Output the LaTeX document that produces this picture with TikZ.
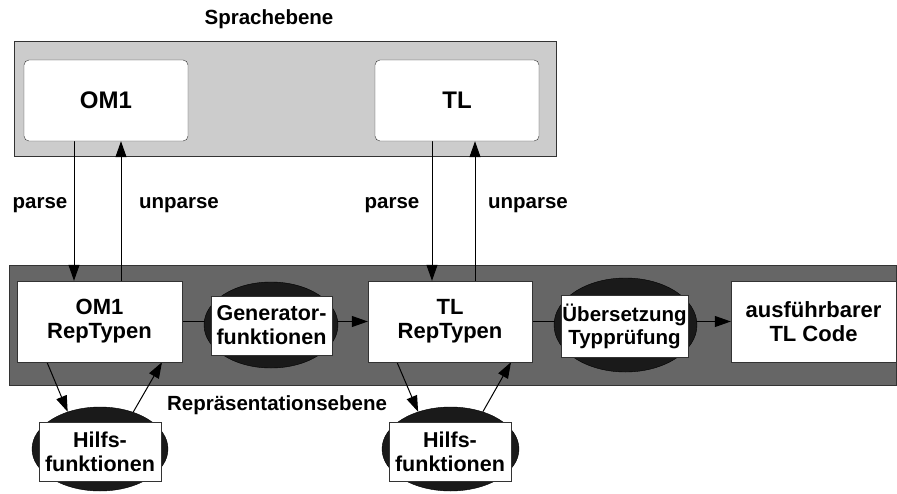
\documentclass[tikz,border=0pt]{standalone}
\usepackage{fontspec}
\setmainfont{Liberation Sans}
\usetikzlibrary{shapes.geometric,arrows.meta}
\pgfdeclarelayer{bg}
\pgfdeclarelayer{lines}
\pgfsetlayers{bg,lines,main}
\definecolor{lightband}{HTML}{CCCCCC}
\definecolor{darkband}{HTML}{666666}
\definecolor{blob}{HTML}{1A1A1A}
\definecolor{edge}{HTML}{333333}
\begin{document}
\begin{tikzpicture}[x=1pt,y=-1pt,
  every node/.style={font=\bfseries},
  band/.style={draw=edge,line width=0.8pt,inner sep=0pt},
  langbox/.style={draw=edge,fill=white,rounded corners=5pt,minimum width=164pt,minimum height=81pt,inner sep=0pt,font=\fontsize{24}{26}\selectfont\bfseries},
  repbox/.style={draw=edge,fill=white,minimum width=165pt,minimum height=81pt,inner sep=0pt,align=center,font=\fontsize{22}{24}\selectfont\bfseries},
  fbox/.style={draw=edge,fill=white,inner sep=0pt,align=center,font=\fontsize{21.5}{24}\selectfont\bfseries},
  blobshape/.style={ellipse,draw=black,fill=blob,inner sep=0pt},
  lbl/.style={font=\fontsize{20.5}{22}\selectfont\bfseries,inner sep=0pt},
  arr/.style={line width=1pt,-{Triangle[length=16pt,width=11pt]}}]
\useasboundingbox (0,0) rectangle (897,493);

% the two levels as bands
\begin{pgfonlayer}{bg}
  \node[band,fill=lightband,minimum width=542pt,minimum height=115pt] (spr) at (285,98.5) {};
  \node[band,fill=darkband,minimum width=887pt,minimum height=120pt] (rep) at (452.5,325) {};
\end{pgfonlayer}

% language level
\node[lbl] (sprlbl) at (269,19) {Sprachebene};
\node[langbox] (om1) at (106,100.5) {OM1};
\node[langbox] (tl) at (457,100.5) {TL};

% representation level
\node[repbox] (om1rep) at (99.5,321.5) {OM1\\RepTypen};
\node[repbox,minimum width=164pt] (tlrep) at (450,321.5) {TL\\RepTypen};
\node[repbox] (code) at (813.5,321.5) {ausführbarer\\TL Code};

\node[blobshape,minimum width=134pt,minimum height=86pt] (gene) at (271,325) {};
\node[fbox,minimum width=121pt,minimum height=59pt] (gen) at (271.5,325.5) {Generator-\\funktionen};
\node[blobshape,minimum width=143pt,minimum height=94pt] (uebe) at (625.5,325) {};
\node[fbox,minimum width=127pt,minimum height=62pt,font=\fontsize{20.5}{23}\selectfont\bfseries] (ueb) at (624.5,326) {Übersetzung\\Typprüfung};

\node[blobshape,minimum width=136pt,minimum height=84pt] (h1e) at (100,449) {};
\node[fbox,minimum width=122pt,minimum height=59pt] (h1) at (100,451.5) {Hilfs-\\funktionen};
\node[blobshape,minimum width=137pt,minimum height=84pt] (h2e) at (450.5,449) {};
\node[fbox,minimum width=122pt,minimum height=59pt] (h2) at (450,451.5) {Hilfs-\\funktionen};

\node[lbl] (replbl) at (277,405) {Repräsentationsebene};

% parse / unparse labels
\node[lbl] (p1) at (40,205) {parse};
\node[lbl] (u1) at (179,205) {unparse};
\node[lbl] (p2) at (392,205) {parse};
\node[lbl] (u2) at (528,205) {unparse};

% connectors
\begin{pgfonlayer}{lines}
  \draw[arr] ([xshift=-32pt]om1.south) -- ([xshift=-32pt]om1.south |- om1rep.north);
  \draw[arr] ([xshift=15pt]om1.south |- om1rep.north) -- ([xshift=15pt]om1.south);
  \draw[arr] ([xshift=-25pt]tl.south) -- ([xshift=-25pt]tl.south |- tlrep.north);
  \draw[arr] ([xshift=18pt]tl.south |- tlrep.north) -- ([xshift=18pt]tl.south);
  \draw[arr] (om1rep.east) -- (tlrep.west);
  \draw[arr] (tlrep.east) -- (code.west);
  \draw[arr] ([xshift=-52.5pt]om1rep.south) -- (h1e.131);
  \draw[arr] (h1e.48) -- ([xshift=62.5pt]om1rep.south);
  \draw[arr] ([xshift=-53pt]tlrep.south) -- (h2e.131);
  \draw[arr] (h2e.49) -- ([xshift=61pt]tlrep.south);
\end{pgfonlayer}
\end{tikzpicture}
\end{document}
